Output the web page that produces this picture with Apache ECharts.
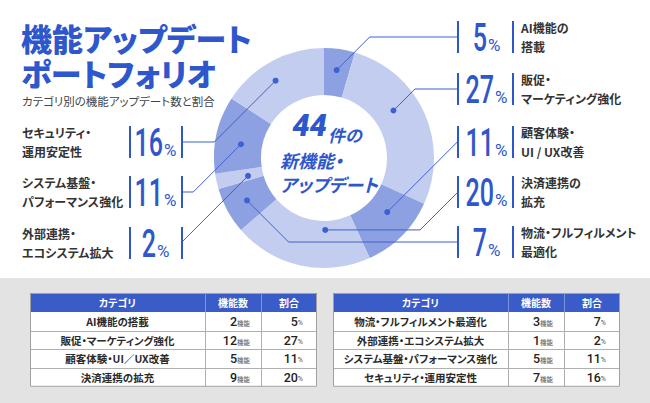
<!doctype html>
<html lang="ja">
<head>
<meta charset="utf-8">
<title>機能アップデート ポートフォリオ</title>
<script src="https://cdn.jsdelivr.net/npm/echarts@6.0.0/dist/echarts.min.js"></script>
<style>
html,body{margin:0;padding:0;background:#fff}
#main{width:650px;height:403px}
#main text{font-feature-settings:"palt" 1}
</style>
</head>
<body>
<div id="main"></div>
<script>
// data
var categories = ['AI機能の搭載', '販促・マーケティング強化', '顧客体験・UI／UX改善', '決済連携の拡充',
  '物流・フルフィルメント最適化', '外部連携・エコシステム拡大', 'システム基盤・パフォーマンス強化', 'セキュリティ・運用安定性'];
var shortLabels = ['AI機能の\n搭載', '販促・\nマーケティング強化', '顧客体験・\nUI / UX改善', '決済連携の\n拡充',
  '物流・フルフィルメント\n最適化', '外部連携・\nエコシステム拡大', 'システム基盤・\nパフォーマンス強化', 'セキュリティ・\n運用安定性'];
var counts = [2, 12, 5, 9, 3, 1, 5, 7];
var shares = [5, 27, 11, 20, 7, 2, 11, 16];
var tableHead = ['カテゴリ', '機能数', '割合'];
var countUnit = '機能';
var titleText = '機能アップデート\nポートフォリオ';
var subtitle = 'カテゴリ別の機能アップデート数と割合';

// layout of the label slots (side, row, where the dot sits inside its slice)
var slots = [
  {side: 1, row: 37, f: 0.5, t: 0.55},
  {side: 1, row: 89, f: 0.4, t: 0.45},
  {side: 1, row: 142, f: 0.39, t: 0.43},
  {side: 1, row: 192, f: 0.32, t: 0.19, hFirst: true},
  {side: 1, row: 242, f: 0.49, t: 0.53},
  {side: -1, row: 243, f: 0.38, t: 0.32},
  {side: -1, row: 192, f: 0.43, t: 0.45},
  {side: -1, row: 142, f: 0.44, t: 0.6}
];
var SIDE = {
  '1': {inner: 458, outer: 513, mid: 487, textX: 521},
  '-1': {inner: 182, outer: 130, mid: 156, textX: 22}
};

var JP = '"Noto Sans CJK JP", "Noto Sans", sans-serif';
var NUM = 'Roboto, "Noto Sans", sans-serif';
var BLUE = '#2f57cc', LINE = '#3d60d2', INK = '#333';
var sliceColors = ['#8da1e2', '#c3cdf0'];

var total = counts.reduce(function (a, b) { return a + b; }, 0);

var chart = echarts.init(document.getElementById('main'), null, {renderer: 'svg'});
chart.setOption({
  animation: false,
  series: [{
    type: 'pie',
    center: [324, 158],
    radius: [63, 110],
    startAngle: 90,
    clockwise: true,
    silent: true,
    label: {show: false},
    labelLine: {show: false},
    itemStyle: {borderWidth: 0},
    data: counts.map(function (v, i) {
      return {value: v, name: categories[i], itemStyle: {color: sliceColors[i % 2]}};
    })
  }]
});

var g = [];
function add(el) { el.silent = true; g.push(el); return el; }
function text(x, y, s, style, extra) {
  var st = Object.assign({text: s, x: 0, y: 0, fill: INK, fontFamily: JP, fontSize: 12,
    align: 'left', verticalAlign: 'middle'}, style || {});
  return add(Object.assign({type: 'text', x: x, y: y, z: 20, style: st}, extra || {}));
}

// title
text(21, 54.5, titleText, {fill: BLUE, fontSize: 31, fontWeight: 900, lineHeight: 35});
text(22, 101, subtitle, {fill: '#444', fontSize: 11.5});

// centre text
text(327, 125, String(total), {align: 'right', fill: BLUE, fontFamily: NUM, fontSize: 31,
  fontWeight: 900, fontStyle: 'italic'});
text(328, 134, '件の', {fill: BLUE, fontSize: 17, fontWeight: 'bold', fontStyle: 'italic'});
text(280, 160, '新機能・', {fill: BLUE, fontSize: 18, fontWeight: 'bold', fontStyle: 'italic'});
text(280, 184, 'アップデート', {fill: BLUE, fontSize: 18, fontWeight: 'bold', fontStyle: 'italic'});

// slice layout from the pie itself
var pieData = null;
try { pieData = chart.getModel().getSeriesByIndex(0).getData(); } catch (e) { pieData = null; }
var acc = 0;
counts.forEach(function (v, i) {
  var L = pieData && pieData.getItemLayout(i);
  if (!L || L.startAngle == null) {
    var s0 = -Math.PI / 2 + acc / total * Math.PI * 2;
    L = {cx: 324, cy: 158, r: 110, r0: 63, startAngle: s0, endAngle: s0 + v / total * Math.PI * 2};
  }
  acc += v;
  var s = slots[i], sd = SIDE[s.side];
  var a = L.startAngle + (L.endAngle - L.startAngle) * s.f;
  var rad = L.r0 + (L.r - L.r0) * s.t;
  var px = L.cx + rad * Math.cos(a), py = L.cy + rad * Math.sin(a);
  var pts = [[px, py]];
  var dist = Math.abs(s.row - py);
  if (s.hFirst) {
    pts.push([sd.inner - s.side * dist, py], [sd.inner, s.row]);
  } else {
    var ex = px + s.side * dist;
    if ((ex - sd.inner) * s.side >= 0) {
      pts.push([sd.inner, py + Math.sign(s.row - py) * Math.abs(sd.inner - px)]);
    } else {
      pts.push([ex, s.row], [sd.inner, s.row]);
    }
  }
  add({type: 'polyline', z: 15, shape: {points: pts}, style: {stroke: LINE, lineWidth: 1, fill: null}});
  add({type: 'circle', z: 16, shape: {cx: px, cy: py, r: 3}, style: {fill: LINE}});

  // bars
  [sd.inner, sd.outer].forEach(function (bx) {
    add({type: 'rect', z: 15, shape: {x: bx - 1, y: s.row - 16, width: 2, height: 32}, style: {fill: BLUE}});
  });

  // big percentage
  var numStr = String(shares[i]);
  var numW = numStr.length * 14.1;
  var startX = sd.mid - (numW + 14) / 2;
  var splitX = startX + numW;
  text(splitX, s.row + 1, numStr, {align: 'right', fill: BLUE, fontFamily: NUM, fontSize: 38, fontWeight: 500},
    {scaleX: 0.66});
  text(splitX + 1, s.row + 8, '%', {fill: BLUE, fontFamily: NUM, fontSize: 17});

  // category label
  text(sd.textX, s.row, shortLabels[i], {fontSize: 12, fontWeight: 'bold', lineHeight: 19});
});

// bottom band and tables
add({type: 'rect', z: 1, shape: {x: 0, y: 278, width: 650, height: 125}, style: {fill: '#e3e3e3'}});

var TBL = {y: 293, headH: 19, rowH: 18.7, cols: [175, 56, 56], xs: [30, 333], perTable: 4};
TBL.xs.forEach(function (x0, t) {
  var w = TBL.cols[0] + TBL.cols[1] + TBL.cols[2];
  var colX = [x0, x0 + TBL.cols[0], x0 + TBL.cols[0] + TBL.cols[1], x0 + w];
  var bodyTop = TBL.y + TBL.headH;
  var bottom = bodyTop + TBL.perTable * TBL.rowH;
  add({type: 'rect', z: 5, shape: {x: x0, y: TBL.y, width: w, height: TBL.headH}, style: {fill: '#3a5cc9'}});
  add({type: 'rect', z: 5, shape: {x: x0, y: bodyTop, width: w, height: bottom - bodyTop}, style: {fill: '#fff'}});
  tableHead.forEach(function (h, c) {
    text((colX[c] + colX[c + 1]) / 2, TBL.y + TBL.headH / 2, h,
      {align: 'center', fill: '#fff', fontSize: 10, fontWeight: 'bold'});
  });
  // grid lines
  for (var r = 1; r < TBL.perTable; r++) {
    var yy = Math.round(bodyTop + r * TBL.rowH) + 0.5;
    add({type: 'line', z: 6, shape: {x1: x0, y1: yy, x2: x0 + w, y2: yy}, style: {stroke: '#b0b0b0', lineWidth: 1}});
  }
  [1, 2].forEach(function (c) {
    var xx = Math.round(colX[c]) + 0.5;
    add({type: 'line', z: 6, shape: {x1: xx, y1: TBL.y, x2: xx, y2: bodyTop}, style: {stroke: '#7d93dc', lineWidth: 1}});
    add({type: 'line', z: 6, shape: {x1: xx, y1: bodyTop, x2: xx, y2: bottom}, style: {stroke: '#b0b0b0', lineWidth: 1}});
  });
  add({type: 'rect', z: 7, shape: {x: x0 + 0.5, y: TBL.y + 0.5, width: w - 1, height: bottom - TBL.y - 1},
    style: {fill: null, stroke: '#a0a0a0', lineWidth: 1}});

  for (var k = 0; k < TBL.perTable; k++) {
    var i = t * TBL.perTable + k;
    var cy = bodyTop + (k + 0.5) * TBL.rowH;
    text((colX[0] + colX[1]) / 2, cy, categories[i], {align: 'center', fontSize: 10.5, fontWeight: 'bold', fill: '#2a2a2a'});
    text(colX[2] - 11, cy, '{n|' + counts[i] + '}{u|' + countUnit + '}', {align: 'right',
      rich: {n: {fontFamily: NUM, fontSize: 12.5, fontWeight: 500, fill: '#222'},
             u: {fontFamily: JP, fontSize: 6.5, fill: '#555', padding: [3, 0, 0, 0]}}});
    text(colX[3] - 14, cy, '{n|' + shares[i] + '}{u|%}', {align: 'right',
      rich: {n: {fontFamily: NUM, fontSize: 12.5, fontWeight: 500, fill: '#222'},
             u: {fontFamily: NUM, fontSize: 7, fill: '#555', padding: [3, 0, 0, 0]}}});
  }
});

chart.setOption({graphic: {elements: g}});
</script>
</body>
</html>
